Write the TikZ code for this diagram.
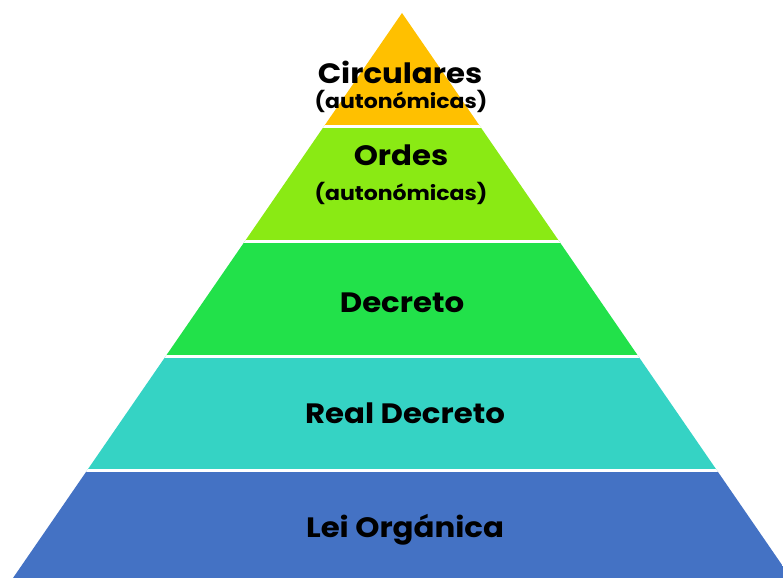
\documentclass[tikz,border=0pt]{standalone}
\usepackage{fontspec}
\setmainfont{Poppins}
\newfontfamily\piramide[FakeStretch=1.1]{Poppins}
\usetikzlibrary{calc}
\definecolor{nivelA}{HTML}{FFC000}
\definecolor{nivelB}{HTML}{8AEA14}
\definecolor{nivelC}{HTML}{22E14A}
\definecolor{nivelD}{HTML}{35D3C4}
\definecolor{nivelE}{HTML}{4472C4}
\tikzset{
  rotulo/.style={anchor=base,font=\piramide\bfseries\fontsize{28}{30}\selectfont},
  subrotulo/.style={anchor=base,font=\piramide\bfseries\fontsize{20}{22}\selectfont},
}
\begin{document}
\begin{tikzpicture}[x=1pt,y=-1pt]
\useasboundingbox (0,0) rectangle (783,578);
\coordinate[] (V) at (402,13);
\coordinate[] (BL) at (13,578);
\coordinate[] (BR) at (791,578);
\begin{scope}
\clip (0,0) rectangle (783,578);
\clip (V) -- (BL) -- (BR) -- cycle;
\fill [nivelA] (0,0) rectangle (783,126);
\fill [nivelB] (0,126) rectangle (783,241);
\fill [nivelC] (0,241) rectangle (783,356);
\fill [nivelD] (0,356) rectangle (783,470);
\fill [nivelE] (0,470) rectangle (783,578);
\foreach \y in {126,241,356,470}
	\draw [white,line width=3pt] (0,\y) -- (783,\y);
\end{scope}
\node[rotulo] (circ) at (400,83) {Circulares};
\node[subrotulo] (circaut) at (401,108) {(autonómicas)};
\node[rotulo] (ordes) at (401,165) {Ordes};
\node[subrotulo] (ordesaut) at (401,200) {(autonómicas)};
\node[rotulo] (dec) at (402,312) {Decreto};
\node[rotulo] (rdec) at (405,423) {Real Decreto};
\node[rotulo] (lei) at (405,537) {Lei Orgánica};
\end{tikzpicture}
\end{document}
